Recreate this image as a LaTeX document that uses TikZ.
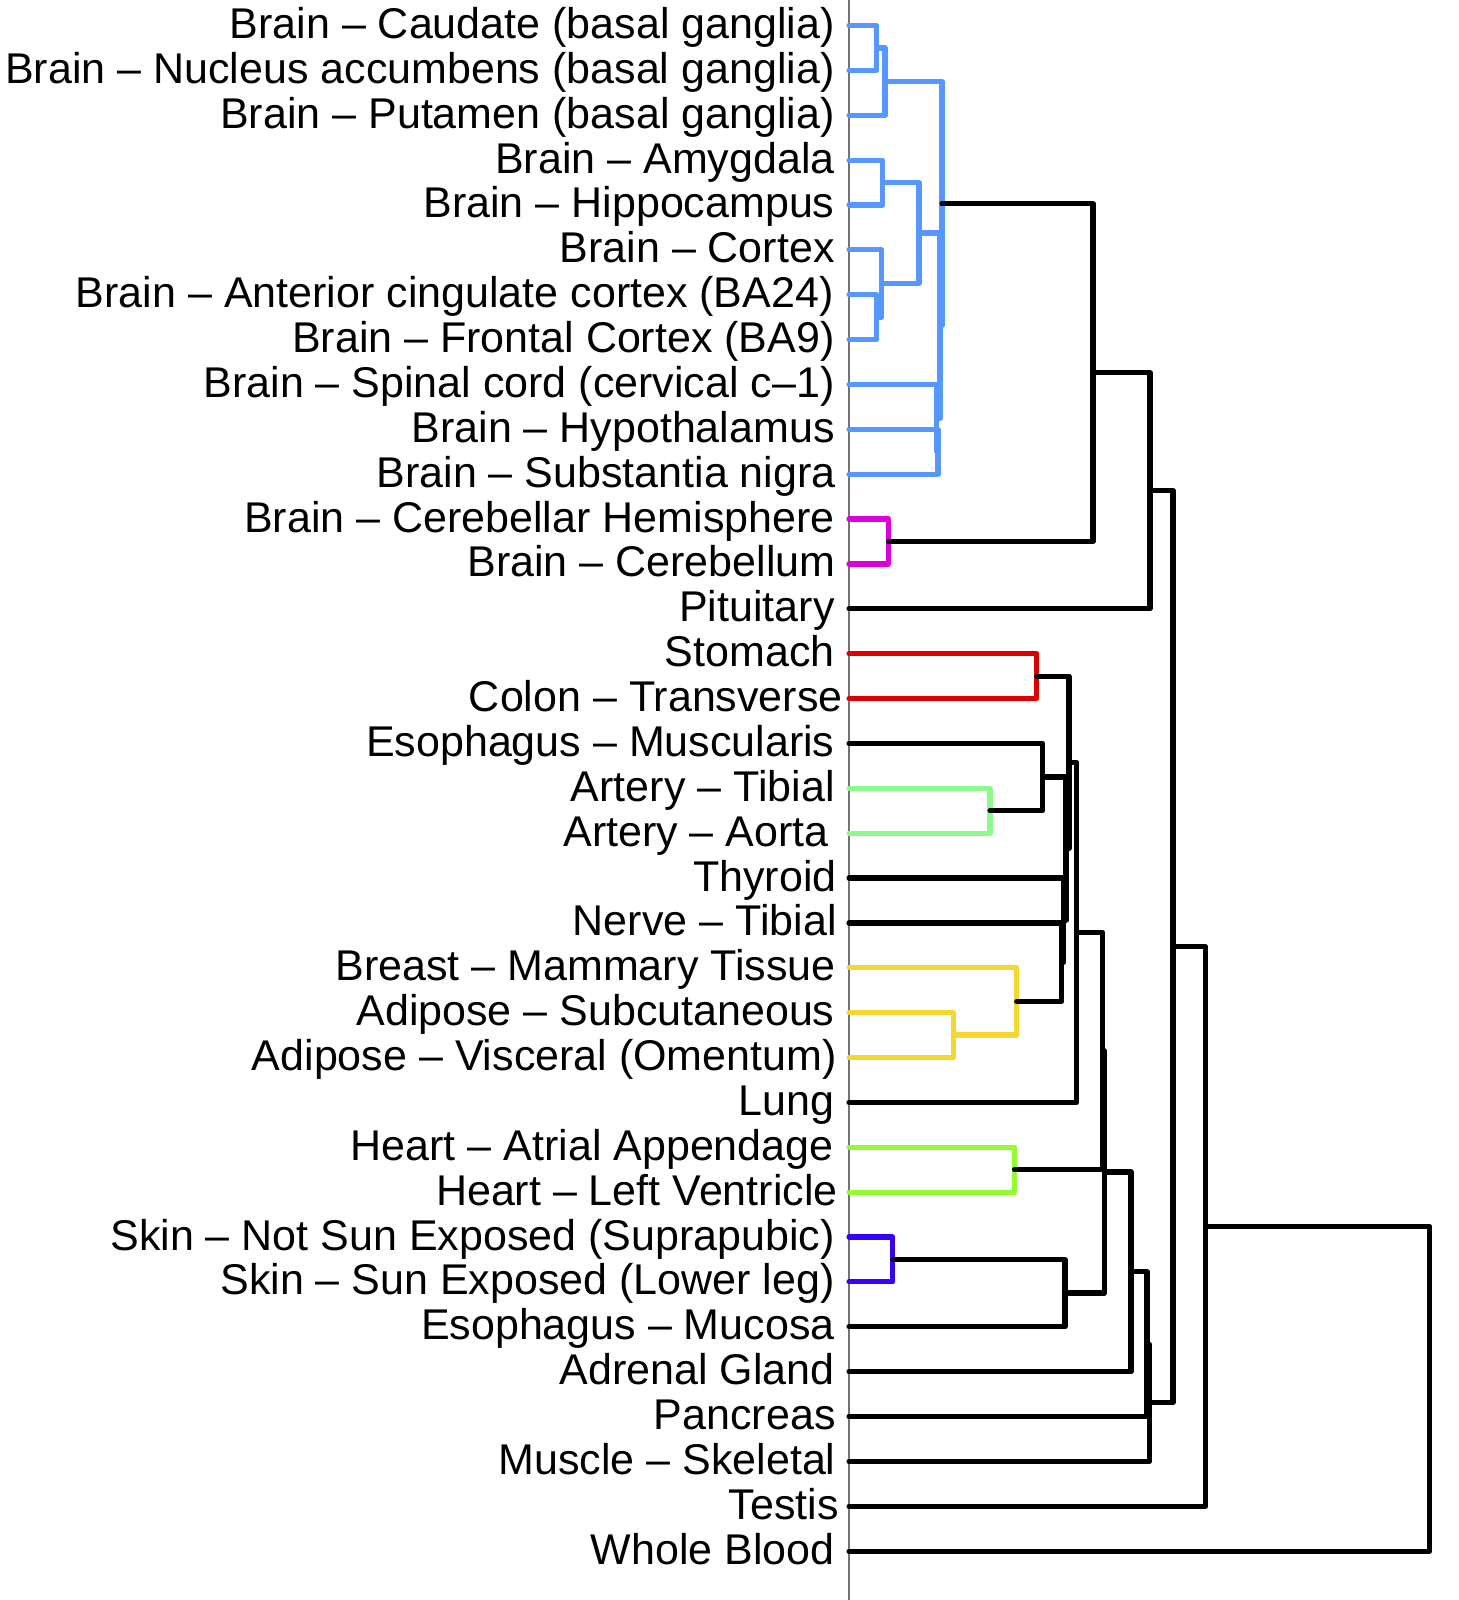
\documentclass[tikz,border=0pt]{standalone}
\usepackage{fontspec}
\setmainfont{Liberation Sans}
\usetikzlibrary{calc}
\definecolor{brainblue}{RGB}{85,150,255}
\definecolor{cbmag}{RGB}{220,0,220}
\definecolor{gutred}{RGB}{220,0,0}
\definecolor{artgreen}{RGB}{140,250,140}
\definecolor{fatyellow}{RGB}{245,215,50}
\definecolor{heartlime}{RGB}{150,250,50}
\definecolor{skinviolet}{RGB}{55,0,250}
\newcommand{\dendjoin}[5]{%
  \path let \p1=(#3), \p2=(#4) in coordinate (#1) at ({#2*0.5pt},{0.5*(\y1+\y2)});
  \draw[brnch,#5] (#3) -| (#1) |- (#4);}

\begin{document}
\begin{tikzpicture}[x=0.5pt,y=-0.5pt,
  brnch/.style={line width=2.6pt,line cap=round,line join=round},
  lab/.style={anchor=base east,inner sep=0pt,font=\fontsize{21.5}{24}\selectfont}]
\useasboundingbox (0,0) rectangle (1459,1600);
\draw[black!55,line width=0.75pt] (849,0) -- (849,1600);
\foreach \lab/\dx [count=\i] in {
  {Brain -- Caudate (basal ganglia)}/0,
  {Brain -- Nucleus accumbens (basal ganglia)}/0,
  {Brain -- Putamen (basal ganglia)}/0,
  {Brain -- Amygdala}/0,
  {Brain -- Hippocampus}/0,
  {Brain -- Cortex}/0,
  {Brain -- Anterior cingulate cortex (BA24)}/-1,
  {Brain -- Frontal Cortex (BA9)}/0,
  {Brain -- Spinal cord (cervical c--1)}/0,
  {Brain -- Hypothalamus}/0,
  {Brain -- Substantia nigra}/1,
  {Brain -- Cerebellar Hemisphere}/0,
  {Brain -- Cerebellum}/1,
  {Pituitary}/0,
  {Stomach}/0,
  {Colon -- Transverse}/8,
  {Esophagus -- Muscularis}/0,
  {Artery -- Tibial}/0,
  {Artery -- Aorta}/-6,
  {Thyroid}/2,
  {Nerve -- Tibial}/2,
  {Breast -- Mammary Tissue}/1,
  {Adipose -- Subcutaneous}/0,
  {Adipose -- Visceral (Omentum)}/2,
  {Lung}/0,
  {Heart -- Atrial Appendage}/-1,
  {Heart -- Left Ventricle}/3,
  {Skin -- Not Sun Exposed (Suprapubic)}/0,
  {Skin -- Sun Exposed (Lower leg)}/0,
  {Esophagus -- Mucosa}/0,
  {Adrenal Gland}/0,
  {Pancreas}/1,
  {Muscle -- Skeletal}/1,
  {Testis}/4,
  {Whole Blood}/0}{
  \coordinate (l\i) at (849,{25.5+(\i-1)*44.87});
  \node[lab] (t\i) at ({835+\dx},{38.5+(\i-1)*44.87}) {\lab};
}
\dendjoin{b1}{876.7}{l1}{l2}{brainblue}
\dendjoin{b2}{885}{b1}{l3}{brainblue}
\dendjoin{b3}{882.7}{l4}{l5}{brainblue}
\dendjoin{b4}{876.7}{l7}{l8}{brainblue}
\dendjoin{b5}{881.7}{l6}{b4}{brainblue}
\dendjoin{b6}{919}{b3}{b5}{brainblue}
\dendjoin{b7}{938}{l10}{l11}{brainblue}
\dendjoin{b8}{936.5}{l9}{b7}{brainblue}
\dendjoin{b9}{940}{b6}{b8}{brainblue}
\dendjoin{b10}{942}{b2}{b9}{brainblue}
\dendjoin{m1}{888.5}{l12}{l13}{cbmag}
\dendjoin{n1}{1093}{b10}{m1}{black}
\dendjoin{n2}{1150}{n1}{l14}{black}
\dendjoin{r1}{1036.7}{l15}{l16}{gutred}
\dendjoin{g1}{990}{l18}{l19}{artgreen}
\dendjoin{e1}{1042.7}{l17}{g1}{black}
\dendjoin{y1}{953.3}{l23}{l24}{fatyellow}
\dendjoin{y2}{1016.7}{l22}{y1}{fatyellow}
\dendjoin{e2}{1061.7}{l21}{y2}{black}
\dendjoin{e3}{1063.5}{l20}{e2}{black}
\dendjoin{e4}{1066}{e1}{e3}{black}
\dendjoin{e5}{1069}{r1}{e4}{black}
\dendjoin{e6}{1076.7}{e5}{l25}{black}
\dendjoin{h1}{1014.5}{l26}{l27}{heartlime}
\dendjoin{s1}{892.7}{l28}{l29}{skinviolet}
\dendjoin{s2}{1065}{s1}{l30}{black}
\dendjoin{e7}{1102.5}{e6}{h1}{black}
\dendjoin{e8}{1104.5}{e7}{s2}{black}
\dendjoin{e9}{1131}{e8}{l31}{black}
\dendjoin{e10}{1147}{e9}{l32}{black}
\dendjoin{e11}{1149.5}{e10}{l33}{black}
\dendjoin{n3}{1173}{n2}{e11}{black}
\dendjoin{n4}{1205.5}{n3}{l34}{black}
\dendjoin{n5}{1429.5}{n4}{l35}{black}
\end{tikzpicture}
\end{document}
